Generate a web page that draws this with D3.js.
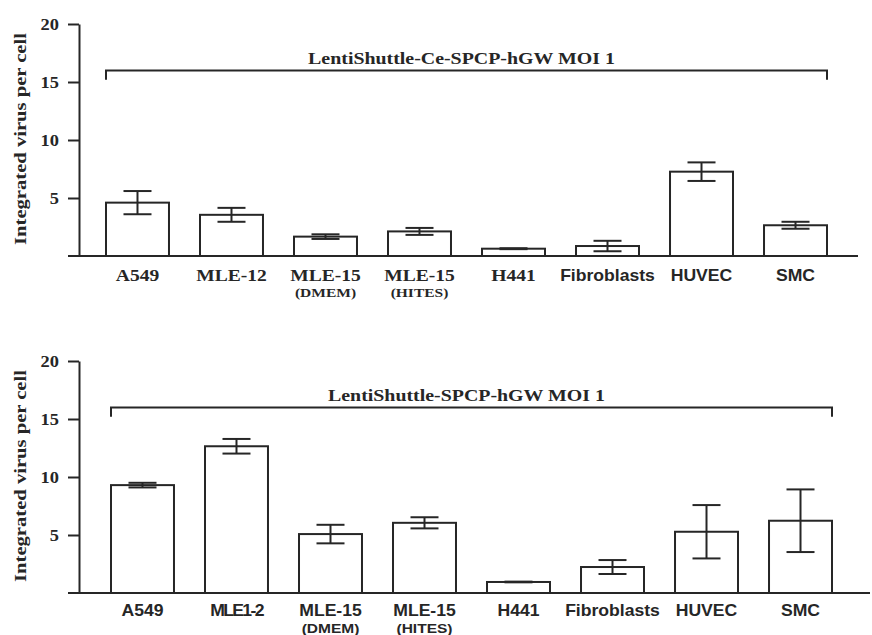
<!DOCTYPE html>
<html>
<head>
<meta charset="utf-8">
<script src="https://cdn.jsdelivr.net/npm/d3@7"></script>
<style>
  body { margin: 0; background: #fff; }
</style>
</head>
<body>
<div id="chart"></div>
<script>
// values
var categoriesTop = ["A549", "MLE-12", "MLE-15", "MLE-15", "H441", "Fibroblasts", "HUVEC", "SMC"];
var categoriesBottom = ["A549", "MLE1-2", "MLE-15", "MLE-15", "H441", "Fibroblasts", "HUVEC", "SMC"];
var subLabels = ["", "", "(DMEM)", "(HITES)", "", "", "", ""];
var meanTop = [4.6, 3.55, 1.67, 2.12, 0.63, 0.86, 7.27, 2.65];
var errTop = [1.0, 0.6, 0.2, 0.3, 0.04, 0.45, 0.8, 0.3];
var meanBottom = [9.3, 12.65, 5.08, 6.05, 0.95, 2.24, 5.28, 6.23];
var errBottom = [0.2, 0.63, 0.8, 0.48, 0.03, 0.6, 2.3, 2.7];
var yTicks = [5, 10, 15, 20];
var bracketTop = "LentiShuttle-Ce-SPCP-hGW MOI 1";
var bracketBottom = "LentiShuttle-SPCP-hGW MOI 1";
var bracketLevel = 16, bracketFoot = 15.2;
var yLabel = "Integrated virus per cell";

var ink = "#262626";
var serif = "'Liberation Serif', 'Times New Roman', serif";
var sans = "'Liberation Sans', Arial, sans-serif";

var svg = d3.select("#chart")
    .append("svg")
    .attr("width", 872)
    .attr("height", 635);

var panels = [
  {labels: categoriesTop, mean: meanTop, err: errTop, title: bracketTop,
   y0: 256, y20: 24, barLeft: 106, axisEnd: 858, labelY: 281, subY: 297, serifUntil: 5},
  {labels: categoriesBottom, mean: meanBottom, err: errBottom, title: bracketBottom,
   y0: 593, y20: 361, barLeft: 111, axisEnd: 870, labelY: 616, subY: 633, serifUntil: 0}
];

// text stretched along its baseline, like the original lettering
function sText(g, x, y, str, o) {
  return g.append("text")
      .attr("transform", `translate(${x},${y})${o.rot ? " rotate(-90)" : ""} scale(${o.sx},1)`)
      .attr("text-anchor", o.anchor || "middle")
      .attr("font-family", o.font)
      .attr("font-size", o.size)
      .attr("font-weight", "bold")
      .attr("fill", ink)
      .text(str);
}

panels.forEach(function(p) {
  var g = svg.append("g");
  var idx = d3.range(p.labels.length);

  var x = d3.scaleBand()
      .domain(idx)
      .range([p.barLeft, p.barLeft + 721])
      .paddingInner(0.33)
      .paddingOuter(0);

  var y = d3.scaleLinear()
      .domain([0, 20])
      .range([p.y0, p.y20]);

  // y axis
  var ax = g.append("g")
      .attr("transform", "translate(79,0)")
      .call(d3.axisLeft(y).tickValues(yTicks).tickSize(11).tickSizeOuter(0).tickPadding(9));
  ax.select(".domain").attr("stroke", ink).attr("stroke-width", 2);
  ax.selectAll(".tick line").attr("stroke", ink).attr("stroke-width", 2);
  ax.selectAll(".tick text")
      .attr("x", null)
      .attr("transform", "translate(-20,0) scale(1.15,1)")
      .attr("font-family", serif)
      .attr("font-size", 16)
      .attr("font-weight", "bold")
      .attr("fill", ink);

  // baseline
  g.append("line")
      .attr("x1", 68).attr("x2", p.axisEnd)
      .attr("y1", y(0)).attr("y2", y(0))
      .attr("stroke", ink).attr("stroke-width", 2);

  // bars
  g.selectAll("rect.bar")
      .data(idx)
      .enter()
      .append("rect")
      .attr("class", "bar")
      .attr("x", i => x(i))
      .attr("y", i => y(p.mean[i]))
      .attr("width", x.bandwidth())
      .attr("height", i => y(0) - y(p.mean[i]))
      .attr("fill", "#fff")
      .attr("stroke", ink)
      .attr("stroke-width", 2);

  // error bars
  var cap = 14;
  var eb = g.selectAll("g.err")
      .data(idx)
      .enter()
      .append("g")
      .attr("class", "err")
      .attr("stroke", ink)
      .attr("stroke-width", 2);
  eb.append("line")
      .attr("x1", i => x(i) + x.bandwidth() / 2)
      .attr("x2", i => x(i) + x.bandwidth() / 2)
      .attr("y1", i => y(p.mean[i] + p.err[i]))
      .attr("y2", i => y(p.mean[i] - p.err[i]));
  [1, -1].forEach(function(s) {
    eb.append("line")
        .attr("x1", i => x(i) + x.bandwidth() / 2 - cap)
        .attr("x2", i => x(i) + x.bandwidth() / 2 + cap)
        .attr("y1", i => y(p.mean[i] + s * p.err[i]))
        .attr("y2", i => y(p.mean[i] + s * p.err[i]));
  });

  // category labels
  idx.forEach(function(i) {
    var cx = x(i) + x.bandwidth() / 2;
    var isSerif = i < p.serifUntil;
    var t = sText(g, cx, p.labelY, p.labels[i],
        {sx: isSerif ? 1.15 : 1.1, size: isSerif ? 17 : 16, font: isSerif ? serif : sans});
    if (p.labels[i] === "MLE1-2") t.attr("letter-spacing", -1.5);
    if (subLabels[i]) {
      sText(g, cx, p.subY, subLabels[i],
          {sx: 1.15, size: 13.5, font: isSerif ? serif : sans});
    }
  });

  // bracket over all bars
  var bl = x(0), br = x(idx.length - 1) + x.bandwidth();
  g.append("path")
      .attr("d", d3.line()([[bl, y(bracketFoot)], [bl, y(bracketLevel)], [br, y(bracketLevel)], [br, y(bracketFoot)]]))
      .attr("fill", "none")
      .attr("stroke", ink)
      .attr("stroke-width", 2);
  sText(g, (bl + br) / 2 - 5, y(bracketLevel) - 6, p.title, {sx: 1.17, size: 17, font: serif});

  // y axis title
  sText(g, 26, (y(0) + y(20)) / 2 - 1, yLabel, {sx: 1.25, size: 16.5, font: serif, rot: true});
});
</script>
</body>
</html>
